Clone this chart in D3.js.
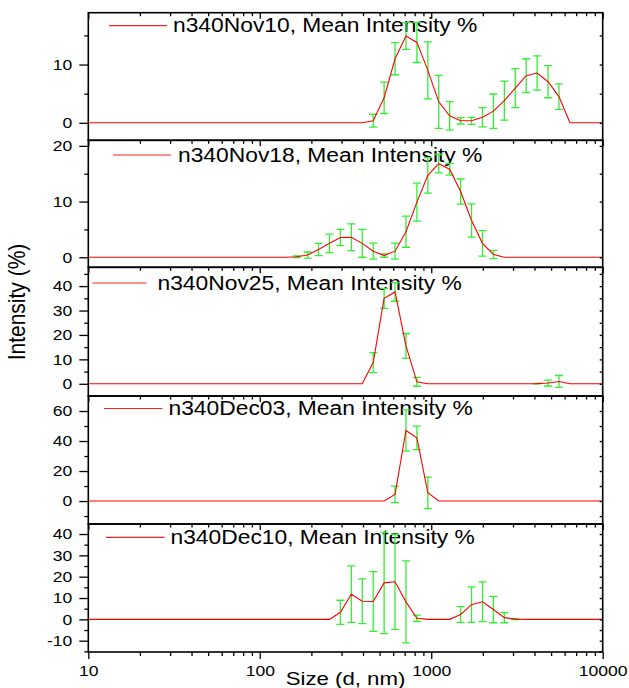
<!DOCTYPE html>
<html>
<head>
<meta charset="utf-8">
<script src="https://cdn.jsdelivr.net/npm/d3@7"></script>
<style>
body { margin: 0; background: #fff; }
svg { display: block; font-family: Arial, "Liberation Sans", sans-serif; }
</style>
</head>
<body>
<svg id="chart" width="629" height="688"></svg>
<script>
// Zetasizer size bins (d, nm) shared by every measurement
var sizes = [10.1, 11.7, 13.54, 15.69, 18.17, 21.04, 24.36, 28.21, 32.67, 37.84,
    43.82, 50.75, 58.77, 68.06, 78.82, 91.28, 105.7, 122.4, 141.8, 164.2,
    190.1, 220.2, 255, 295.3, 342, 396.1, 458.7, 531.2, 615.1, 712.4,
    825, 955.4, 1106, 1281, 1484, 1718, 1990, 2305, 2669, 3091,
    3580, 4145, 4801, 5560, 6439, 7456, 8635, 10000];

var sampleNames = ["n340Nov10", "n340Nov18", "n340Nov25", "n340Dec03", "n340Dec10"];

// mean intensity %
var nov10Mean = [0, 0, 0, 0, 0, 0, 0, 0, 0, 0, 0, 0, 0, 0, 0, 0, 0, 0, 0, 0,
    0, 0, 0, 0, 0, 0, 0.37, 4.3, 11.0, 14.9, 13.8, 9.0, 3.6, 1.2, 0.35, 0.35, 0.95, 2.0, 3.8, 5.95,
    8.1, 8.55, 7.05, 4.5, 0, 0, 0, 0];
var nov18Mean = [0, 0, 0, 0, 0, 0, 0, 0, 0, 0, 0, 0, 0, 0, 0, 0, 0, 0, 0, 0.1,
    0.4, 1.4, 2.5, 3.55, 3.6, 2.5, 1.1, 0.3, 1.1, 4.6, 9.9, 14.7, 16.8, 15.8, 11.8, 6.6, 2.5, 0.5, 0, 0,
    0, 0, 0, 0, 0, 0, 0, 0];
var nov25Mean = [0, 0, 0, 0, 0, 0, 0, 0, 0, 0, 0, 0, 0, 0, 0, 0, 0, 0, 0, 0,
    0, 0, 0, 0, 0, 0, 8.7, 35.0, 37.6, 15.5, 0.8, 0, 0, 0, 0, 0, 0, 0, 0, 0,
    0, 0.05, 0.3, 0.95, 0, 0, 0, 0];
var dec03Mean = [0, 0, 0, 0, 0, 0, 0, 0, 0, 0, 0, 0, 0, 0, 0, 0, 0, 0, 0, 0,
    0, 0, 0, 0, 0, 0, 0, 0, 4.4, 47.0, 42.1, 5.5, 0, 0, 0, 0, 0, 0, 0, 0,
    0, 0, 0, 0, 0, 0, 0, 0];
var dec10Mean = [0, 0, 0, 0, 0, 0, 0, 0, 0, 0, 0, 0, 0, 0, 0, 0, 0, 0, 0, 0,
    0, 0, 0, 3.3, 11.8, 8.5, 8.4, 17.1, 17.6, 8.2, 0.5, 0, 0, 0, 2.3, 6.9, 8.25, 4.6, 0.8, 0.1,
    0, 0, 0, 0, 0, 0, 0, 0];

// standard deviation of the repeat runs
var nov10Sd = [0, 0, 0, 0, 0, 0, 0, 0, 0, 0, 0, 0, 0, 0, 0, 0, 0, 0, 0, 0,
    0, 0, 0, 0, 0, 0, 1.1, 2.7, 2.75, 2.3, 3.45, 4.9, 4.55, 2.45, 0.55, 0.6, 1.65, 2.95, 3.35, 3.35,
    2.9, 2.95, 2.75, 2.2, 0, 0, 0, 0];
var nov18Sd = [0, 0, 0, 0, 0, 0, 0, 0, 0, 0, 0, 0, 0, 0, 0, 0, 0, 0, 0, 0.15,
    0.55, 1.1, 1.65, 1.45, 2.4, 2.5, 1.45, 0.3, 1.45, 2.8, 3.4, 3.2, 1.65, 1.05, 2.25, 3.0, 2.3, 0.75, 0, 0,
    0, 0, 0, 0, 0, 0, 0, 0];
var nov25Sd = [0, 0, 0, 0, 0, 0, 0, 0, 0, 0, 0, 0, 0, 0, 0, 0, 0, 0, 0, 0,
    0, 0, 0, 0, 0, 0, 4.1, 4.1, 3.8, 5.1, 1.8, 0, 0, 0, 0, 0, 0, 0, 0, 0,
    0, 0.1, 1.2, 2.45, 0, 0, 0, 0];
var dec03Sd = [0, 0, 0, 0, 0, 0, 0, 0, 0, 0, 0, 0, 0, 0, 0, 0, 0, 0, 0, 0,
    0, 0, 0, 0, 0, 0, 0, 0, 5.5, 13.7, 7.8, 10.5, 0, 0, 0, 0, 0, 0, 0, 0,
    0, 0, 0, 0, 0, 0, 0, 0];
var dec10Sd = [0, 0, 0, 0, 0, 0, 0, 0, 0, 0, 0, 0, 0, 0, 0, 0, 0, 0, 0, 0,
    0, 0, 0, 5.65, 13.25, 10.5, 14.0, 23.8, 22.3, 19.2, 1.5, 0, 0, 0, 3.7, 8.3, 9.35, 6.2, 2.4, 0.2,
    0, 0, 0, 0, 0, 0, 0, 0];

var xTickValues = [10, 100, 1000, 10000];
var yTickValues = [[0, 10], [0, 10, 20], [0, 10, 20, 30, 40], [0, 20, 40, 60], [-10, 0, 10, 20, 30, 40]];
var yMinorValues = [[5, 15], [5, 15], [5, 15, 25, 35, 45], [-10, 10, 30, 50], [-15, -5, 5, 15, 25, 35]];
var yRanges = [[-3, 18.9], [-1.8, 21], [-5, 47.7], [-15.3, 70], [-15.3, 44.7]];

var means = [nov10Mean, nov18Mean, nov25Mean, dec03Mean, dec10Mean];
var sds = [nov10Sd, nov18Sd, nov25Sd, dec03Sd, dec10Sd];

// layout
var SX = 1.17; // the picture is a bit stretched sideways
var plotLeft = 88.3, plotRight = 602.7;
var edges = [12.7, 140.3, 267.3, 396, 524, 652];
var legendPos = [
    {x1: 109, x2: 167, y: 25.7, tx: 173, ty: 32.3},
    {x1: 113, x2: 171, y: 155, tx: 178, ty: 161.5},
    {x1: 92.5, x2: 146.5, y: 283, tx: 157.5, ty: 289.5},
    {x1: 104, x2: 162.5, y: 408.5, tx: 168.5, ty: 415},
    {x1: 106, x2: 164.5, y: 537.3, tx: 170.5, ty: 543.5}
];

var svg = d3.select("#chart");
svg.append("rect").attr("width", 629).attr("height", 688).attr("fill", "#fff");

var x = d3.scaleLog().domain([10, 10000]).range([plotLeft, plotRight]);

var xMinor = [];
[10, 100, 1000].forEach(function (dec) {
    for (var k = 2; k <= 9; k++) { xMinor.push(dec * k); }
});

function stretchedText(parent, px, py, str, size, anchor, rot) {
    var g = parent.append("g")
        .attr("transform", "translate(" + px + "," + py + ") scale(" + SX + ",1)" + (rot ? " rotate(" + rot + ")" : ""));
    g.append("text")
        .attr("font-size", size)
        .attr("text-anchor", anchor || "start")
        .attr("fill", "#000")
        .text(str);
    return g;
}

function styleAxis(g) {
    g.select(".domain").remove();
    g.selectAll("line").attr("stroke", "#000").attr("stroke-width", 1.3);
}

for (var i = 0; i < 5; i++) {
    var pTop = edges[i], pBottom = edges[i + 1];
    var y = d3.scaleLinear().domain(yRanges[i]).range([pBottom, pTop]);
    var panel = svg.append("g");

    panel.append("clipPath").attr("id", "clip" + i)
        .append("rect").attr("x", plotLeft).attr("y", pTop)
        .attr("width", plotRight - plotLeft).attr("height", pBottom - pTop);

    // legend
    var lp = legendPos[i];
    panel.append("line")
        .attr("x1", lp.x1).attr("x2", lp.x2).attr("y1", lp.y).attr("y2", lp.y)
        .attr("stroke", "#ff2020").attr("stroke-width", 1.2);
    stretchedText(panel, lp.tx, lp.ty, sampleNames[i] + ", Mean Intensity %", 19.5, "start");

    var pts = sizes.map(function (s, j) {
        return {size: s, v: means[i][j], sd: sds[i][j]};
    });

    var plot = panel.append("g").attr("clip-path", "url(#clip" + i + ")");

    // error bars
    var bars = plot.selectAll("g.err")
        .data(pts.filter(function (d) { return d.sd > 0; }))
        .enter().append("g").attr("class", "err")
        .attr("stroke", "#33ee33").attr("stroke-width", 1.3);
    bars.append("line")
        .attr("x1", function (d) { return x(d.size); })
        .attr("x2", function (d) { return x(d.size); })
        .attr("y1", function (d) { return y(d.v - d.sd); })
        .attr("y2", function (d) { return y(d.v + d.sd); });
    [-1, 1].forEach(function (sgn) {
        bars.append("line")
            .attr("x1", function (d) { return x(d.size) - 4; })
            .attr("x2", function (d) { return x(d.size) + 4; })
            .attr("y1", function (d) { return y(d.v + sgn * d.sd); })
            .attr("y2", function (d) { return y(d.v + sgn * d.sd); });
    });

    // mean line
    var line = d3.line()
        .x(function (d) { return x(d.size); })
        .y(function (d) { return y(d.v); });
    plot.append("path")
        .datum(pts)
        .attr("d", line)
        .attr("fill", "none")
        .attr("stroke", "#ff0000")
        .attr("stroke-width", 1.1);

    // frame
    panel.append("rect")
        .attr("x", plotLeft).attr("y", pTop)
        .attr("width", plotRight - plotLeft).attr("height", pBottom - pTop)
        .attr("fill", "none").attr("stroke", "#000").attr("stroke-width", 1.6);

    // left axis
    var yAxis = panel.append("g").attr("transform", "translate(" + plotLeft + ",0)")
        .call(d3.axisLeft(y).tickValues(yTickValues[i]).tickSize(9)
            .tickFormat(function (d) { return String(d); }));
    styleAxis(yAxis);
    yAxis.selectAll("text")
        .attr("font-size", 15).attr("font-family", null).attr("fill", "#000")
        .attr("x", -16 / SX)
        .attr("transform", "scale(" + SX + ",1)");
    var yMinorAxis = panel.append("g").attr("transform", "translate(" + plotLeft + ",0)")
        .call(d3.axisLeft(y).tickValues(yMinorValues[i]).tickSize(4).tickFormat(""));
    styleAxis(yMinorAxis);

    // right axis, ticks pointing in
    var rAxis = panel.append("g").attr("transform", "translate(" + plotRight + ",0)")
        .call(d3.axisLeft(y).tickValues(yTickValues[i].concat(yMinorValues[i])).tickSize(3).tickFormat(""));
    styleAxis(rAxis);

    // top axis, ticks pointing in
    var tAxis = panel.append("g").attr("transform", "translate(0," + pTop + ")")
        .call(d3.axisBottom(x).tickValues(xTickValues).tickSize(6).tickFormat(""));
    styleAxis(tAxis);
    var tMinor = panel.append("g").attr("transform", "translate(0," + pTop + ")")
        .call(d3.axisBottom(x).tickValues(xMinor).tickSize(3.5).tickFormat(""));
    styleAxis(tMinor);
}

// bottom axis
var bottomY = edges[5];
var xAxis = svg.append("g").attr("transform", "translate(0," + bottomY + ")")
    .call(d3.axisBottom(x).tickValues(xTickValues).tickSize(7).tickPadding(6)
        .tickFormat(function (d) { return String(d); }));
styleAxis(xAxis);
xAxis.selectAll("text")
    .attr("font-size", 15).attr("font-family", null).attr("fill", "#000")
    .attr("transform", "scale(" + SX + ",1)");
var xMinorAxis = svg.append("g").attr("transform", "translate(0," + bottomY + ")")
    .call(d3.axisBottom(x).tickValues(xMinor).tickSize(4).tickFormat(""));
styleAxis(xMinorAxis);

// axis titles
stretchedText(svg, (plotLeft + plotRight) / 2, 685, "Size (d, nm)", 19, "middle");
stretchedText(svg, 25, 302, "Intensity (%)", 21, "middle", -90);
</script>
</body>
</html>
